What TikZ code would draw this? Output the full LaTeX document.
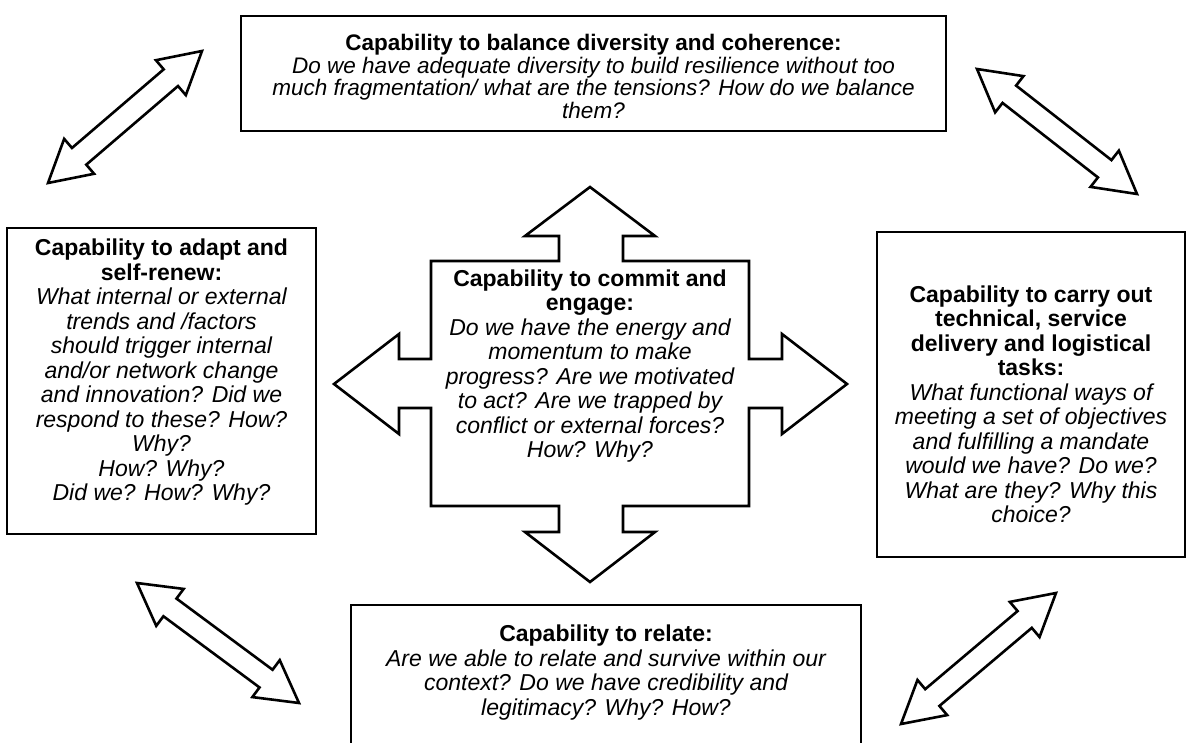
\documentclass[tikz,border=0pt]{standalone}
\usepackage{fontspec}
\setmainfont{Liberation Sans}
\usetikzlibrary{calc}

\newcommand{\capfont}{\fontsize{23}{24.5}\selectfont}
\newcommand{\topfont}{\fontsize{22.5}{22.5}\selectfont}
\newcommand{\heading}[1]{{\upshape\bfseries #1}}
\newcommand{\twowayarrow}[2]{%
  \draw[twoway] (#1)
    -- ($(#1)!41pt!(#2)!23pt!90:(#2)$)
    -- ($(#1)!41pt!(#2)!11pt!90:(#2)$)
    -- ($(#2)!41pt!(#1)!11pt!-90:(#1)$)
    -- ($(#2)!41pt!(#1)!23pt!-90:(#1)$)
    -- (#2)
    -- ($(#2)!41pt!(#1)!23pt!90:(#1)$)
    -- ($(#2)!41pt!(#1)!11pt!90:(#1)$)
    -- ($(#1)!41pt!(#2)!11pt!-90:(#2)$)
    -- ($(#1)!41pt!(#2)!23pt!-90:(#2)$)
    -- cycle;}

\begin{document}
\begin{tikzpicture}[
        x=1pt,
        y=-1pt,
        box/.style={
          draw,
          line width=2.8pt,
          inner sep=0pt
          },
        txt/.style={
          align=center,
          inner sep=0pt,
          font=\capfont\itshape
          },
        twoway/.style={
          draw,
          line width=2.6pt,
          line join=miter
          },
        cross/.style={
          draw,
          line width=2.6pt,
          line join=miter
          }
        ]
        \useasboundingbox (0,0) rectangle (1192,742);
        \clip (0,0) rectangle (1192,742);
        % boxes
        \node[box, minimum width=705pt, minimum height=115pt] (balance) at (593.5,73.5) {};
        \node[box, minimum width=309pt, minimum height=306pt] (adapt) at (161.5,381) {};
        \node[box, minimum width=308pt, minimum height=325pt] (delivery) at (1031,394.5) {};
        \node[box, minimum width=510pt, minimum height=160pt] (relate) at (606,685) {};
        % four-way arrow round the middle box
        \draw[cross] (590,187) -- (655,236) -- (623,236) -- (623,261) -- (749,261)
          -- (749,359) -- (782,359) -- (782,334) -- (847,384) -- (782,434) -- (782,408)
          -- (749,408) -- (749,506) -- (623,506) -- (623,532) -- (655,532) -- (590,582)
          -- (525,532) -- (559,532) -- (559,506) -- (431,506) -- (431,408) -- (399,408)
          -- (399,434) -- (334,384) -- (399,334) -- (399,359) -- (431,359) -- (431,261)
          -- (559,261) -- (559,236) -- (525,236) -- cycle;
        % texts
        \node[txt, font=\topfont\itshape] (balance-txt) at (593.5,76.5) {\heading{Capability to balance diversity and coherence:}\\
          Do we have adequate diversity to build resilience without too\\
          much fragmentation/ what are the tensions? How do we balance\\
          them?};
        \node[txt] (adapt-txt) at (161.5,372.5) {\heading{Capability to adapt and}\\
          \heading{self-renew:}\\
          What internal or external\\
          trends and /factors\\
          should trigger internal\\
          and/or network change\\
          and innovation? Did we\\
          respond to these? How?\\
          Why?\\
          How? Why?\\
          Did we? How? Why?};
        \node[txt] (commit-txt) at (590,366) {\heading{Capability to commit and}\\
          \heading{engage:}\\
          Do we have the energy and\\
          momentum to make\\
          progress? Are we motivated\\
          to act? Are we trapped by\\
          conflict or external forces?\\
          How? Why?};
        \node[txt] (delivery-txt) at ([yshift=-10pt]delivery.center) {\heading{Capability to carry out}\\
          \heading{technical, service}\\
          \heading{delivery and logistical}\\
          \heading{tasks:}\\
          What functional ways of\\
          meeting a set of objectives\\
          and fulfilling a mandate\\
          would we have? Do we?\\
          What are they? Why this\\
          choice?};
        \node[txt, anchor=north] (relate-txt) at (606,625) {\heading{Capability to relate:}\\
          Are we able to relate and survive within our\\
          context? Do we have credibility and\\
          legitimacy? Why? How?};
        % corner arrows
        \coordinate (tl-a) at (48,183);
        \coordinate (tl-b) at (202,51);
        \coordinate (tr-a) at (977,69);
        \coordinate (tr-b) at (1137,194);
        \coordinate (bl-a) at (137,583);
        \coordinate (bl-b) at (299,703);
        \coordinate (br-a) at (901,724);
        \coordinate (br-b) at (1056,593);
        \twowayarrow{tl-a}{tl-b}
        \twowayarrow{tr-a}{tr-b}
        \twowayarrow{bl-a}{bl-b}
        \twowayarrow{br-a}{br-b}
    \end{tikzpicture}
\end{document}
